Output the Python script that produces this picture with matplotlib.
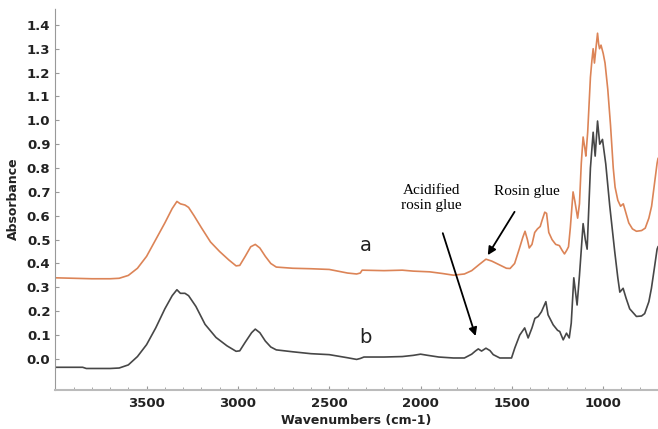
import numpy as np
import matplotlib
matplotlib.use("Agg")
import matplotlib.pyplot as plt
from matplotlib.ticker import MultipleLocator

# spectrum a (rosin glue)
wn_a = [4000, 3900, 3800, 3700, 3650, 3600, 3550, 3500, 3450, 3400, 3360, 3334, 3315, 3290,
        3270, 3240, 3200, 3150, 3100, 3050, 3010, 2990, 2960, 2930, 2905, 2880, 2850, 2820,
        2790, 2700, 2600, 2500, 2400, 2350, 2330, 2320, 2200, 2100, 2040, 1950, 1880, 1820,
        1760, 1720, 1680, 1642, 1610, 1570, 1530, 1510, 1485, 1460, 1440, 1428, 1415, 1405,
        1390, 1375, 1360, 1345, 1335, 1320, 1310, 1298, 1280, 1260, 1240, 1225, 1212, 1200,
        1190, 1180, 1165, 1155, 1140, 1130, 1120, 1110, 1100, 1095, 1085, 1070, 1062, 1055,
        1048, 1040, 1031, 1025, 1020, 1012, 1000, 990, 975, 960, 945, 935, 920, 905, 890,
        875, 860, 840, 818, 790, 770, 750, 735, 720, 705, 700]
abs_a = [0.34, 0.338, 0.336, 0.336, 0.338, 0.35, 0.38, 0.43, 0.50, 0.57, 0.63, 0.66, 0.65, 0.645,
         0.635, 0.60, 0.55, 0.49, 0.45, 0.415, 0.39, 0.392, 0.43, 0.47, 0.48, 0.465, 0.43, 0.40,
         0.385, 0.38, 0.378, 0.375, 0.36, 0.356, 0.36, 0.372, 0.37, 0.372, 0.368, 0.365, 0.358, 0.351,
         0.356, 0.37, 0.395, 0.418, 0.41, 0.395, 0.38, 0.379, 0.40, 0.46, 0.51, 0.535, 0.50, 0.465,
         0.48, 0.53, 0.545, 0.555, 0.58, 0.615, 0.61, 0.53, 0.50, 0.48, 0.475, 0.455, 0.44, 0.455,
         0.47, 0.55, 0.70, 0.66, 0.59, 0.65, 0.82, 0.93, 0.88, 0.85, 0.95, 1.18, 1.25, 1.30,
         1.24, 1.30, 1.365, 1.32, 1.30, 1.315, 1.28, 1.24, 1.13, 0.98, 0.80, 0.72, 0.665, 0.64, 0.65,
         0.61, 0.57, 0.545, 0.535, 0.538, 0.548, 0.59, 0.64, 0.73, 0.82, 0.84]

# spectrum b (acidified rosin glue)
wn_b = [4000, 3850, 3830, 3700, 3650, 3600, 3550, 3500, 3450, 3400, 3360, 3334, 3315, 3290,
        3270, 3230, 3180, 3120, 3060, 3010, 2990, 2960, 2925, 2905, 2880, 2850, 2820, 2790,
        2700, 2600, 2500, 2400, 2350, 2330, 2310, 2200, 2100, 2040, 2000, 1960, 1900, 1820,
        1760, 1720, 1700, 1684, 1666, 1642, 1620, 1602, 1566, 1502, 1484, 1457, 1430, 1411,
        1390, 1374, 1356, 1338, 1314, 1302, 1274, 1250, 1238, 1219, 1201, 1186, 1175, 1161,
        1150, 1143, 1130, 1110, 1098, 1088, 1070, 1055, 1044, 1031, 1019, 1004, 986, 964,
        937, 920, 909, 891, 875, 855, 818, 790, 773, 750, 736, 720, 705, 700]
abs_b = [-0.035, -0.035, -0.04, -0.04, -0.038, -0.025, 0.01, 0.06, 0.13, 0.21, 0.265, 0.29, 0.275, 0.275,
         0.265, 0.22, 0.145, 0.09, 0.055, 0.032, 0.034, 0.07, 0.11, 0.125, 0.11, 0.075, 0.05, 0.038,
         0.03, 0.022, 0.018, 0.005, -0.002, 0.002, 0.008, 0.008, 0.01, 0.015, 0.02, 0.015, 0.008, 0.004,
         0.004, 0.02, 0.033, 0.042, 0.033, 0.045, 0.035, 0.018, 0.004, 0.004, 0.046, 0.10, 0.13, 0.088,
         0.13, 0.17, 0.178, 0.198, 0.24, 0.185, 0.143, 0.12, 0.115, 0.08, 0.108, 0.088, 0.15, 0.34,
         0.27, 0.226, 0.35, 0.567, 0.50, 0.46, 0.80, 0.95, 0.85, 0.997, 0.90, 0.92, 0.817, 0.64,
         0.45, 0.34, 0.28, 0.296, 0.255, 0.21, 0.178, 0.18, 0.19, 0.24, 0.296, 0.38, 0.46, 0.47]

fig = plt.figure(figsize=(6.58, 4.29), dpi=100)
ax = fig.add_axes([0.084, 0.091, 0.916, 0.89])

ax.plot(wn_a, abs_a, color="#dc8457", lw=1.2)
ax.plot(wn_b, abs_b, color="#474747", lw=1.2)

ax.set_xlim(4000, 700)
ax.set_ylim(-0.13, 1.47)
ax.xaxis.set_minor_locator(MultipleLocator(100))
ax.set_xticks([3500, 3000, 2500, 2000, 1500, 1000])
ax.set_yticks(np.arange(0, 1.41, 0.1))
ax.yaxis.set_major_formatter(plt.FuncFormatter(lambda v, p: f"{v:.1f}"))

for s in ["top", "right"]:
    ax.spines[s].set_visible(False)
ax.spines["left"].set_linestyle((0, (1, 1)))
ax.spines["left"].set_color("#999999")
ax.spines["bottom"].set_color("#bbbbbb")
ax.spines["bottom"].set_linewidth(1.5)
ax.tick_params(axis="both", which="both", direction="in", color="#999999",
               labelsize=9.5)
ax.tick_params(axis="both", which="major", length=3)
ax.tick_params(axis="both", which="minor", length=2)
for lab in ax.get_xticklabels() + ax.get_yticklabels():
    lab.set_fontweight("bold")
    lab.set_color("#222222")
ax.tick_params(axis="x", pad=5)

ax.set_xlabel("Wavenumbers (cm-1)", fontsize=9, fontweight="bold", color="#222222", labelpad=3)
ax.set_ylabel("Absorbance", fontsize=9, fontweight="bold", color="#222222", labelpad=5)

ax.text(2300, 0.475, "a", fontsize=14, ha="center", va="center", color="#222222")
ax.text(2300, 0.09, "b", fontsize=14, ha="center", va="center", color="#222222")

serif = ["Liberation Serif", "DejaVu Serif"]
ax.annotate("Acidified\nrosin glue", xy=(1694, 0.085), xytext=(1940, 0.675),
            fontsize=11, family=serif, ha="center", va="center",
            arrowprops=dict(arrowstyle="-|>", color="black", lw=1.3,
                            mutation_scale=12, shrinkA=14))
ax.annotate("Rosin glue", xy=(1640, 0.425), xytext=(1418, 0.70),
            fontsize=11, family=serif, ha="center", va="center",
            arrowprops=dict(arrowstyle="-|>", color="black", lw=1.3,
                            mutation_scale=12, shrinkA=9))

fig.savefig("out.png", dpi=100)
